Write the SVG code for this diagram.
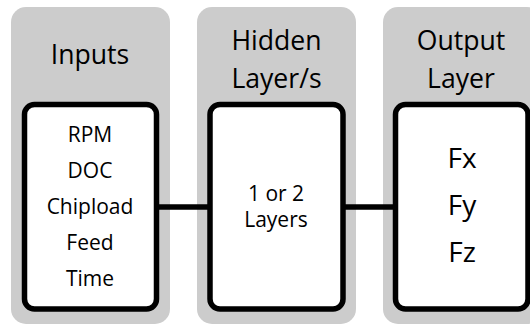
<svg xmlns="http://www.w3.org/2000/svg" width="530" height="325" viewBox="0 0 530 325">
  <style>
    .panel { fill: #cccccc; }
    .box { fill: #ffffff; stroke: #000000; stroke-width: 5.5; }
    .link { stroke: #000000; stroke-width: 5.5; fill: none; }
    text { font-family: "Open Sans", "Noto Sans", sans-serif; fill: #000000; text-anchor: middle; }
    .head { font-size: 26.6px; }
    .item { font-size: 21px; }
    .out { font-size: 28px; }
  </style>
  <rect width="530" height="325" fill="#ffffff"/>

  <!-- layer columns -->
  <g id="inputs">
    <rect class="panel" x="11" y="7" width="159" height="317" rx="15"/>
    <text class="head" x="90" y="64">Inputs</text>
    <rect class="box" x="24.5" y="104.5" width="132" height="204.5" rx="10"/>
    <text class="item" x="90" y="142">RPM</text>
    <text class="item" x="90" y="178">DOC</text>
    <text class="item" x="90" y="214">Chipload</text>
    <text class="item" x="90" y="250">Feed</text>
    <text class="item" x="90" y="286">Time</text>
  </g>

  <g id="hidden">
    <rect class="panel" x="197" y="7" width="159" height="317" rx="15"/>
    <text class="head" x="276.5" y="50">Hidden</text>
    <text class="head" x="276.5" y="88">Layer/s</text>
    <rect class="box" x="210" y="104.5" width="133" height="204.5" rx="10"/>
    <text class="item" x="276" y="201">1 or 2</text>
    <text class="item" x="276" y="227">Layers</text>
  </g>

  <g id="output">
    <rect class="panel" x="383" y="7" width="159" height="317" rx="15"/>
    <text class="head" x="461" y="50">Output</text>
    <text class="head" x="461" y="88">Layer</text>
    <rect class="box" x="395.5" y="104.5" width="132.5" height="204.5" rx="10"/>
    <text class="out" x="462" y="168">Fx</text>
    <text class="out" x="462" y="215">Fy</text>
    <text class="out" x="462" y="262">Fz</text>
  </g>

  <!-- connectors -->
  <g id="connectors">
    <line class="link" x1="156.5" y1="207" x2="210" y2="207"/>
    <line class="link" x1="343" y1="207" x2="395.5" y2="207"/>
  </g>
</svg>
